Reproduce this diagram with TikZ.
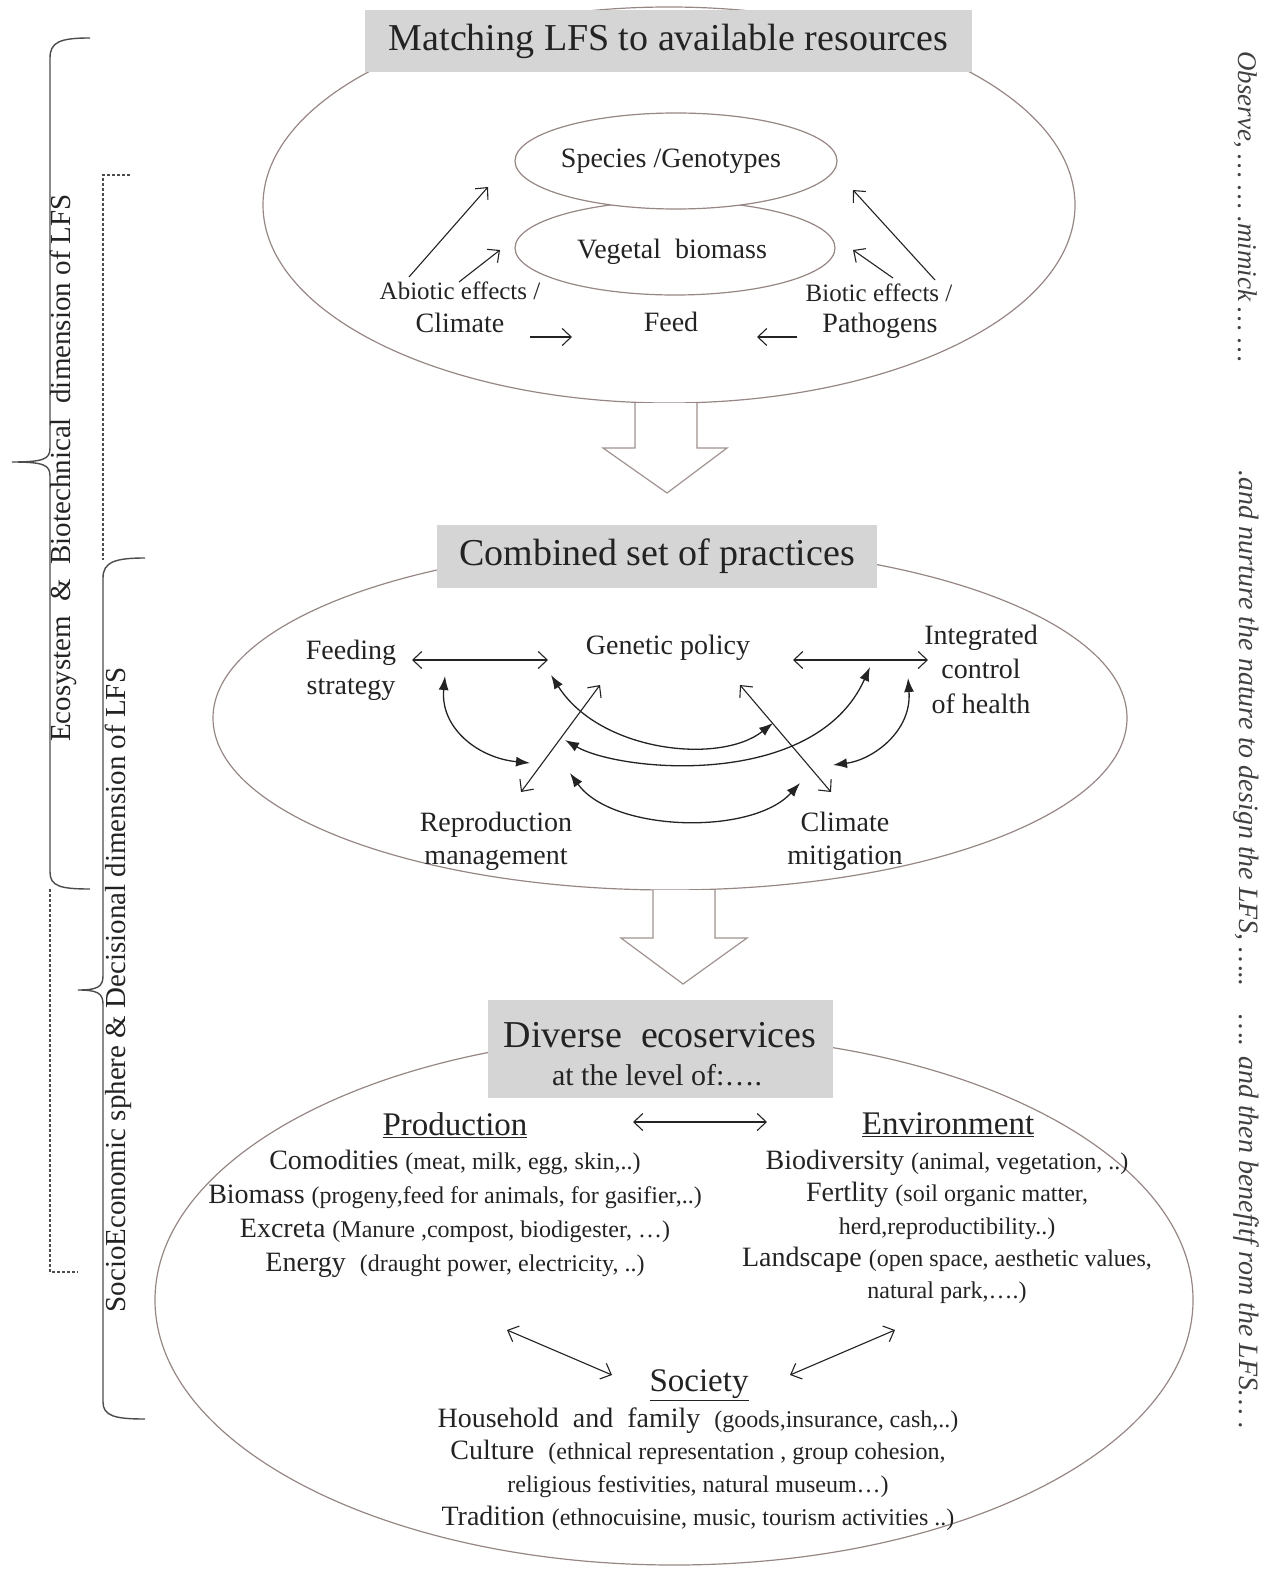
\documentclass[tikz,border=0pt]{standalone}
\usepackage{fontspec}
\setmainfont{Liberation Serif}
\usetikzlibrary{arrows.meta,shapes.geometric}
\definecolor{boxgrey}{RGB}{214,213,213}
\definecolor{ovalc}{RGB}{150,135,132}
\definecolor{inkc}{RGB}{35,35,35}
\newcommand{\fsz}[2]{\fontsize{#1}{#2}\selectfont}
\newcommand{\sm}{\fsz{24}{34}}
\tikzset{
  greybox/.style={fill=boxgrey, inner sep=0pt},
  bigoval/.style={ellipse, draw=ovalc, line width=1.2pt, inner sep=0pt},
  smalloval/.style={ellipse, draw=ovalc, line width=1.2pt, fill=white, inner sep=0pt, minimum width=322pt, minimum height=96pt},
  lbl/.style={text=inkc, align=center, font=\fsz{28}{34}},
  oarr/.style={draw=inkc, line width=1.1pt, -{Straight Barb[length=9pt,width=17pt]}},
  dblo/.style={draw=inkc, line width=1.1pt, {Straight Barb[length=9pt,width=17pt]}-{Straight Barb[length=9pt,width=17pt]}},
  dblf/.style={draw=inkc, line width=1.3pt, {Latex[length=14pt,width=10pt]}-{Latex[length=14pt,width=10pt]}},
  blockarr/.style={draw=ovalc!90, line width=1.2pt, fill=white},
  brace/.style={draw=black!70, line width=1.4pt},
  dbrace/.style={brace, dash pattern=on 3pt off 2pt}
}
\begin{document}
\begin{tikzpicture}[x=1pt,y=-1pt]
\useasboundingbox (0,0) rectangle (1275,1570);
%% left braces
\draw[brace] (90,38) .. controls (60,38) and (50,42) .. (50,58) -- (50,448)
  .. controls (50,459) and (44,462) .. (12,462) .. controls (44,462) and (50,465) .. (50,476)
  -- (50,872) .. controls (50,886) and (60,889) .. (90,889);
\draw[dbrace] (130,175) -- (103,175) -- (103,560);
\draw[dbrace] (50,889) -- (50,1272) -- (78,1272);
\draw[brace] (145,558) .. controls (115,558) and (103,562) .. (103,578) -- (103,976)
  .. controls (103,987) and (97,990) .. (78,990) .. controls (97,990) and (103,993) .. (103,1004)
  -- (103,1402) .. controls (103,1416) and (115,1419) .. (145,1419);
\node[rotate=90, text=inkc, font=\fsz{29}{32}] (ecosys) at (63,468) {Ecosystem \ \& \ Biotechnical \ dimension of LFS};
\node[rotate=90, text=inkc, font=\fsz{29}{32}] (socio) at (118,990) {SocioEconomic sphere \& Decisional dimension of LFS};
%% right side
\node[rotate=-90, text=black!75, font=\itshape\fsz{27}{30}] (observe) at (1246,207) {Observe, … … .mimick … …};
\node[rotate=-90, text=black!75, font=\itshape\fsz{28}{30}] (nurture) at (1246,950) {.and nurture the nature to design the LFS, …..\quad …. and then benefitf rom the LFS… .};
%% top: matching
\node[bigoval, minimum width=812pt, minimum height=396pt] (topoval) at (669,205) {};
\node[greybox, minimum width=607pt, minimum height=62pt, font=\fsz{38}{40}, text=inkc] (matching) at (668.5,41) {Matching LFS to available resources};
\node[smalloval, minimum width=320pt, minimum height=94pt] (vegetal) at (675,248) {};
\node[smalloval] (species) at (676,161) {};
\node[lbl] (speciest) at (671,161) {Species /Genotypes};
\node[lbl] (vegetalt) at (672,252) {Vegetal \ biomass};
\node[lbl, font=\fsz{25}{30}] (abiotic) at (460,291) {Abiotic effects /};
\node[lbl] (climate) at (460,323) {Climate};
\node[lbl] (feed) at (671,322) {Feed};
\node[lbl, font=\fsz{25}{30}] (biotic) at (879,293) {Biotic effects /};
\node[lbl] (pathogens) at (880,326) {Pathogens};
\coordinate (abA) at (409,277); \coordinate (abB) at (488,187);
\coordinate (abC) at (459,282); \coordinate (abD) at (500,250);
\coordinate (biA) at (935,280); \coordinate (biB) at (853,190);
\coordinate (biC) at (893,278); \coordinate (biD) at (853,250);
\coordinate (clA) at (530,337); \coordinate (clB) at (572,337);
\coordinate (paA) at (797,337); \coordinate (paB) at (757,337);
\draw[oarr] (abA) -- (abB);
\draw[oarr] (abC) -- (abD);
\draw[oarr] (biA) -- (biB);
\draw[oarr] (biC) -- (biD);
\draw[oarr] (clA) -- (clB);
\draw[oarr] (paA) -- (paB);
\draw[blockarr] (635,403) -- (635,448) -- (603,448) -- (667,493) -- (727,448) -- (697,448) -- (697,403);
%% middle: practices
\node[bigoval, minimum width=914pt, minimum height=344pt] (midoval) at (670,718) {};
\node[greybox, minimum width=440pt, minimum height=63pt, font=\fsz{38}{40}, text=inkc] (combined) at (657,556.5) {Combined set of practices};
\node[lbl, font=\fsz{28}{35}] (feeding) at (351,670) {Feeding\\strategy};
\node[lbl] (genetic) at (668,648) {Genetic policy};
\node[lbl, font=\fsz{28}{34.5}] (integrated) at (981,669) {Integrated\\control\\of health};
\node[lbl, font=\fsz{28}{33}] (repro) at (496,841) {Reproduction\\management};
\node[lbl, font=\fsz{28}{33}] (mitig) at (845,841) {Climate\\mitigation};
\coordinate (fg1) at (412,660); \coordinate (fg2) at (548,660);
\coordinate (gi1) at (793,660); \coordinate (gi2) at (928,660);
\coordinate (fr1) at (445,676); \coordinate (fr2) at (530,763);
\coordinate (ic1) at (908,678); \coordinate (ic2) at (833,765);
\coordinate (rg1) at (521,792); \coordinate (rg2) at (600,685);
\coordinate (cg1) at (831,792); \coordinate (cg2) at (740,685);
\coordinate (gc1) at (551,675); \coordinate (gc2) at (773,723);
\coordinate (ri1) at (565,740); \coordinate (ri2) at (870,667);
\coordinate (rc1) at (570,773); \coordinate (rc2) at (800,783);
\draw[dblo] (fg1) -- (fg2);
\draw[dblo] (gi1) -- (gi2);
\draw[dblo] (rg1) -- (rg2);
\draw[dblo] (cg1) -- (cg2);
\draw[dblf] (fr1) .. controls (440,728) and (478,758) .. (fr2);
\draw[dblf] (ic1) .. controls (912,732) and (872,760) .. (ic2);
\draw[dblf] (gc1) .. controls (600,752) and (720,765) .. (gc2);
\draw[dblf] (ri1) .. controls (620,772) and (815,790) .. (ri2);
\draw[dblf] (rc1) .. controls (612,832) and (752,836) .. (rc2);
\draw[blockarr] (653,890) -- (653,938) -- (621,938) -- (683,984) -- (747,938) -- (715,938) -- (715,890);
%% bottom: ecoservices
\node[bigoval, minimum width=1038pt, minimum height=530pt] (botoval) at (674,1300) {};
\node[greybox, minimum width=345pt, minimum height=98pt] (diverse) at (660.5,1049) {};
\node[lbl, font=\fsz{38}{40}] (diverset) at (660,1035) {Diverse \ ecoservices};
\node[lbl, font=\fsz{30}{34}] (level) at (657,1075) {at the level of:….};
\node[lbl, font=\fsz{33}{36}] (prod) at (455,1125) {\underline{Production}};
\node[lbl, font=\fsz{33}{36}] (env) at (948,1125) {\underline{Environment}};
\node[lbl, font=\fsz{33}{36}] (soc) at (699,1385) {\underline{Society}};
\node[lbl] (prodlist) at (455,1214) {Comodities {\sm(meat, milk, egg, skin,..)}\\
  Biomass {\sm(progeny,feed for animals, for gasifier,..)}\\
  Excreta {\sm(Manure ,compost, biodigester, …)}\\
  Energy \ {\sm(draught power, electricity, ..)}};
\node[lbl, font=\fsz{28}{32.3}] (envlist) at (947,1227) {Biodiversity {\sm(animal, vegetation, ..)}\\
  Fertlity {\sm(soil organic matter,}\\
  {\sm herd,reproductibility..)}\\
  Landscape {\sm(open space, aesthetic values,}\\
  {\sm natural park,….)}};
\node[lbl, font=\fsz{28}{32.7}] (soclist) at (698,1469) {Household \ and \ family \ {\sm(goods,insurance, cash,..)}\\
  Culture \ {\sm(ethnical representation , group cohesion,}\\
  {\sm religious festivities, natural museum…)}\\
  Tradition {\sm(ethnocuisine, music, tourism activities ..)}};
\coordinate (pe1) at (633,1122); \coordinate (pe2) at (767,1122);
\coordinate (ps1) at (507,1330); \coordinate (ps2) at (612,1375);
\coordinate (es1) at (895,1330); \coordinate (es2) at (790,1375);
\draw[dblo] (pe1) -- (pe2);
\draw[dblo] (ps1) -- (ps2);
\draw[dblo] (es1) -- (es2);
\end{tikzpicture}
\end{document}
